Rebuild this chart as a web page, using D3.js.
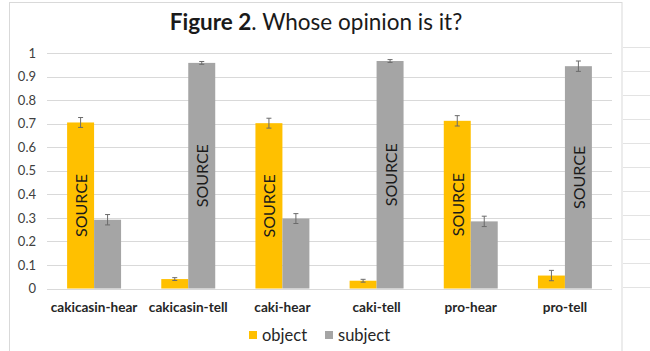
<!DOCTYPE html>
<html><head><meta charset="utf-8">
<script src="https://cdn.jsdelivr.net/npm/d3@7"></script>
<style>body{margin:0;background:#fff;}svg{display:block;}</style>
</head><body>
<svg id="c" width="650" height="351"></svg>
<script>
const categories = ["cakicasin-hear","cakicasin-tell","caki-hear","caki-tell","pro-hear","pro-tell"];
const seriesNames = ["object","subject"];
const objectValues = [0.705, 0.040, 0.702, 0.033, 0.712, 0.055];
const subjectValues = [0.292, 0.958, 0.297, 0.966, 0.285, 0.944];
const objectErrors = [0.021, 0.006, 0.021, 0.006, 0.022, 0.022];
const subjectErrors = [0.022, 0.006, 0.021, 0.006, 0.022, 0.022];
const sourceSeries = ["object","subject","object","subject","object","subject"];
const yTicks = [0,0.1,0.2,0.3,0.4,0.5,0.6,0.7,0.8,0.9,1];
const colors = {object:"#FFC000", subject:"#A5A5A5"};

const svg = d3.select("#c");
const FONT = "Lato, 'Open Sans', sans-serif";

// chart frame & spreadsheet cell lines on the right
svg.append("rect").attr("x",9.5).attr("y",2.5).attr("width",612.5).attr("height",360)
  .attr("fill","#fff").attr("stroke","#d9d9d9").attr("stroke-width",1);
svg.append("g").selectAll("line").data(d3.range(11)).join("line")
  .attr("x1",623).attr("x2",650)
  .attr("y1",d=>47.5+d*24).attr("y2",d=>47.5+d*24)
  .attr("stroke","#e3e3e3");

const y = d3.scaleLinear().domain([0,1]).range([288.5,53]);
const x = d3.scaleBand().domain(categories).range([47,612]).paddingInner(0.427).paddingOuter(0.2135);
const xs = d3.scaleBand().domain(seriesNames).range([0,x.bandwidth()]);

// gridlines
svg.append("g").selectAll("line").data(yTicks).join("line")
  .attr("x1",47).attr("x2",612)
  .attr("y1",d=>Math.round(y(d))+0.5).attr("y2",d=>Math.round(y(d))+0.5)
  .attr("stroke","#d9d9d9").attr("stroke-width",1);

// y axis
const yAxis = d3.axisLeft(y).tickValues(yTicks).tickFormat(d=>String(+d.toFixed(1))).tickSize(0).tickPadding(0);
const gy = svg.append("g").attr("transform","translate(36,0)").call(yAxis);
gy.select(".domain").remove();
gy.selectAll("text").attr("font-family",FONT).attr("font-size",13).attr("fill","#404040");

// data rows
const rows = categories.map((c,i)=>({cat:c, vals:[
  {s:"object", v:objectValues[i], e:objectErrors[i]},
  {s:"subject", v:subjectValues[i], e:subjectErrors[i]}
], src:sourceSeries[i]}));

const g = svg.append("g").selectAll("g").data(rows).join("g")
  .attr("transform",d=>`translate(${x(d.cat)},0)`);

g.selectAll("rect").data(d=>d.vals).join("rect")
  .attr("x",d=>xs(d.s)).attr("width",xs.bandwidth())
  .attr("y",d=>y(d.v)).attr("height",d=>y(0)-y(d.v))
  .attr("fill",d=>colors[d.s]);

// error bars
const eb = g.selectAll("g.eb").data(d=>d.vals).join("g").attr("class","eb");
eb.append("line")
  .attr("x1",d=>xs(d.s)+xs.bandwidth()/2).attr("x2",d=>xs(d.s)+xs.bandwidth()/2)
  .attr("y1",d=>y(d.v+d.e)).attr("y2",d=>y(d.v-d.e))
  .attr("stroke","#6b6b6b").attr("stroke-width",1);
eb.selectAll("line.cap").data(d=>[d.v+d.e,d.v-d.e].map(v=>({s:d.s,v}))).join("line").attr("class","cap")
  .attr("x1",d=>xs(d.s)+xs.bandwidth()/2-2.5).attr("x2",d=>xs(d.s)+xs.bandwidth()/2+2.5)
  .attr("y1",d=>y(d.v)).attr("y2",d=>y(d.v))
  .attr("stroke","#6b6b6b").attr("stroke-width",1);

// SOURCE labels
g.append("text")
  .attr("transform",d=>{
    const v = d.vals.find(o=>o.s===d.src).v;
    const cx = xs(d.src)+xs.bandwidth()/2;
    const cy = (y(v)+y(0))/2;
    return `translate(${cx},${cy}) rotate(-90)`;
  })
  .attr("text-anchor","middle").attr("dominant-baseline","central")
  .attr("font-family",FONT).attr("font-size",16).attr("fill","#1a1a1a")
  .text("SOURCE");

// x axis labels
const xAxis = d3.axisBottom(x).tickSize(0).tickPadding(0);
const gx = svg.append("g").attr("transform","translate(0,302)").call(xAxis);
gx.select(".domain").remove();
gx.selectAll("text").attr("font-family",FONT).attr("font-size",13.6).attr("font-weight","bold").attr("fill","#262626");

// title
const t = svg.append("text").attr("x",316).attr("y",30).attr("text-anchor","middle")
  .attr("font-family",FONT).attr("font-size",22.5).attr("fill","#1a1a1a");
t.append("tspan").attr("font-weight","bold").text("Figure 2");
t.append("tspan").text(". Whose opinion is it?");

// legend
const lg = svg.append("g").attr("transform","translate(249,331)");
const li = lg.selectAll("g").data(seriesNames).join("g")
  .attr("transform",(d,i)=>`translate(${i*76},0)`);
li.append("rect").attr("width",8).attr("height",8).attr("fill",d=>colors[d]);
li.append("text").attr("x",13).attr("y",10).attr("font-family",FONT).attr("font-size",16.5).attr("fill","#262626").text(d=>d);
</script>
</body></html>
